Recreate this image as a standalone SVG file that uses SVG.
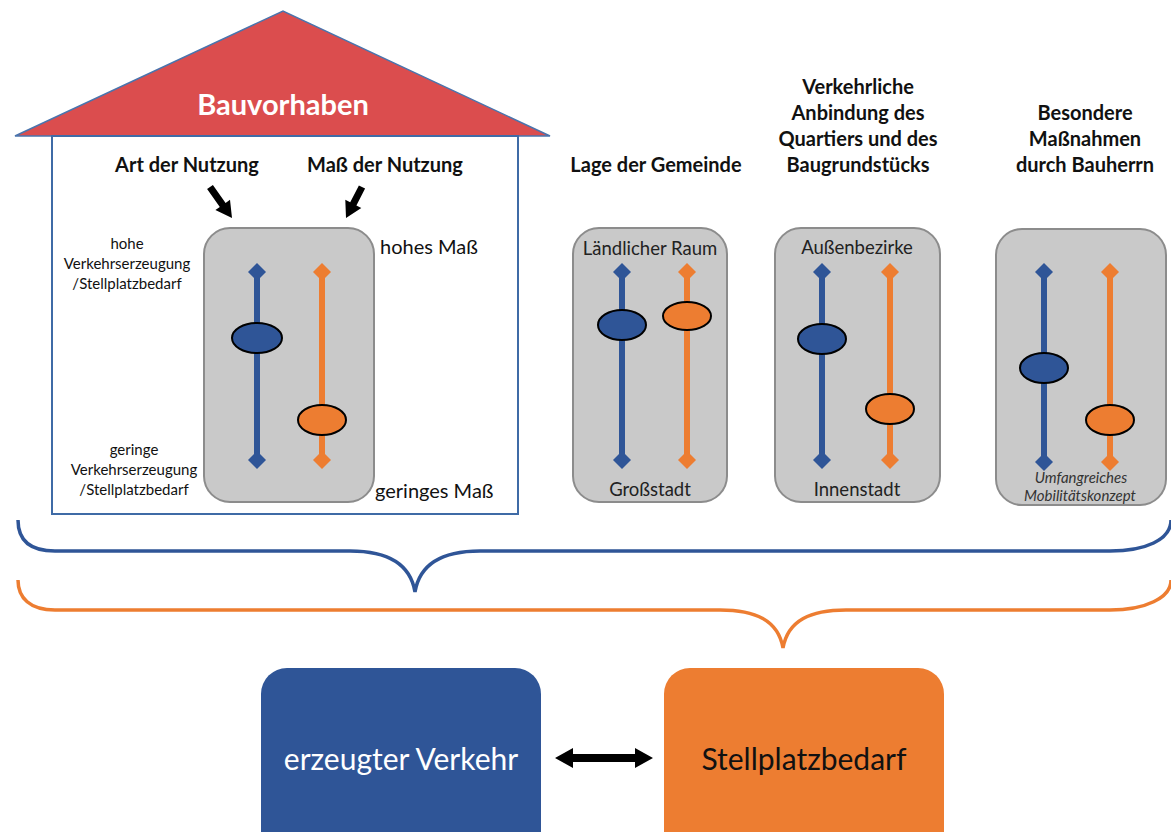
<svg xmlns="http://www.w3.org/2000/svg" width="1171" height="832" viewBox="0 0 1171 832">
<defs>
<style>
text{font-family:Lato,"Open Sans","Liberation Sans",sans-serif;}
.h{font-weight:bold;font-size:20px;fill:#111;text-anchor:middle;}
.lbl{font-size:15px;fill:#111;text-anchor:middle;}
.side{font-size:20px;fill:#111;}
.pl{font-size:18.5px;fill:#222;text-anchor:middle;}
.it{font-size:15px;font-style:italic;fill:#333;text-anchor:middle;}
.panel{fill:#c9c9c9;stroke:#8c8c8c;stroke-width:2;}
.bl{stroke:#2f5597;stroke-width:6;}
.or{stroke:#ed7d31;stroke-width:6;}
.bd{fill:#2f5597;}
.od{fill:#ed7d31;}
.bk{fill:#2f5597;stroke:#000;stroke-width:2;}
.ok{fill:#ed7d31;stroke:#000;stroke-width:2;}
.brace{fill:none;stroke-width:3.5;}
</style>
</defs>

<g id="house">
<polygon points="15,136 283,11 550,136" fill="#db4d4e" stroke="#4a74ad" stroke-width="1.5"/>
<text x="283" y="115" font-size="29" font-weight="bold" fill="#fff" text-anchor="middle">Bauvorhaben</text>
<rect x="52" y="136" width="466" height="378" fill="none" stroke="#3f6ba6" stroke-width="2"/>
<text class="h" x="187" y="172">Art der Nutzung</text>
<text class="h" x="385" y="172">Maß der Nutzung</text>
</g>

<g id="arrows-in">
<polygon points="212.9,185 225.6,202.9 230,199.7 232,218 215.4,210.1 219.8,206.9 207.1,189" fill="#000"/>
<polygon points="365.1,188.6 356.4,205.4 361.3,207.9 346,218 345.3,199.7 350.2,202.2 358.9,185.4" fill="#000"/>
</g>

<g id="labels-left">
<text class="lbl" x="127" y="249">hohe</text>
<text class="lbl" x="127" y="269">Verkehrserzeugung</text>
<text class="lbl" x="127" y="289">/Stellplatzbedarf</text>
<text class="lbl" x="134" y="455">geringe</text>
<text class="lbl" x="134" y="475">Verkehrserzeugung</text>
<text class="lbl" x="134" y="495">/Stellplatzbedarf</text>
<text class="side" x="380" y="254">hohes Maß</text>
<text class="side" x="375" y="498">geringes Maß</text>
</g>

<g id="panel-nutzung">
<rect class="panel" x="204" y="228" width="170" height="274" rx="26"/>
<line class="bl" x1="257" y1="272" x2="257" y2="460"/>
<polygon class="bd" points="257,263 266,272 257,281 248,272"/>
<polygon class="bd" points="257,451 266,460 257,469 248,460"/>
<ellipse class="bk" cx="257" cy="338" rx="25" ry="15"/>
<line class="or" x1="322" y1="272" x2="322" y2="460"/>
<polygon class="od" points="322,263 331,272 322,281 313,272"/>
<polygon class="od" points="322,451 331,460 322,469 313,460"/>
<ellipse class="ok" cx="322" cy="420" rx="24" ry="15"/>
</g>

<g id="panel-lage">
<text class="h" x="656" y="172">Lage der Gemeinde</text>
<rect class="panel" x="573" y="228" width="154" height="274" rx="26"/>
<text class="pl" x="650" y="255">Ländlicher Raum</text>
<line class="bl" x1="622" y1="272" x2="622" y2="460"/>
<polygon class="bd" points="622,263 631,272 622,281 613,272"/>
<polygon class="bd" points="622,451 631,460 622,469 613,460"/>
<ellipse class="bk" cx="622" cy="325" rx="24" ry="15"/>
<line class="or" x1="687" y1="272" x2="687" y2="460"/>
<polygon class="od" points="687,263 696,272 687,281 678,272"/>
<polygon class="od" points="687,451 696,460 687,469 678,460"/>
<ellipse class="ok" cx="687" cy="316" rx="24" ry="14"/>
<text class="pl" x="650" y="496">Großstadt</text>
</g>

<g id="panel-anbindung">
<text class="h" x="858" y="94">Verkehrliche</text>
<text class="h" x="858" y="120">Anbindung des</text>
<text class="h" x="858" y="146">Quartiers und des</text>
<text class="h" x="858" y="172">Baugrundstücks</text>
<rect class="panel" x="775" y="228" width="165" height="274" rx="26"/>
<text class="pl" x="857" y="254">Außenbezirke</text>
<line class="bl" x1="822" y1="272" x2="822" y2="460"/>
<polygon class="bd" points="822,263 831,272 822,281 813,272"/>
<polygon class="bd" points="822,451 831,460 822,469 813,460"/>
<ellipse class="bk" cx="822" cy="339" rx="24" ry="15"/>
<line class="or" x1="890" y1="272" x2="890" y2="460"/>
<polygon class="od" points="890,263 899,272 890,281 881,272"/>
<polygon class="od" points="890,451 899,460 890,469 881,460"/>
<ellipse class="ok" cx="890" cy="409" rx="24" ry="15"/>
<text class="pl" x="857" y="496">Innenstadt</text>
</g>

<g id="panel-massnahmen">
<text class="h" x="1085" y="120">Besondere</text>
<text class="h" x="1085" y="146">Maßnahmen</text>
<text class="h" x="1085" y="172">durch Bauherrn</text>
<rect class="panel" x="996" y="229" width="170" height="276" rx="26"/>
<line class="bl" x1="1044" y1="272" x2="1044" y2="462"/>
<polygon class="bd" points="1044,263 1053,272 1044,281 1035,272"/>
<polygon class="bd" points="1044,453 1053,462 1044,471 1035,462"/>
<ellipse class="bk" cx="1044" cy="368" rx="24" ry="15"/>
<line class="or" x1="1110" y1="272" x2="1110" y2="462"/>
<polygon class="od" points="1110,263 1119,272 1110,281 1101,272"/>
<polygon class="od" points="1110,453 1119,462 1110,471 1101,462"/>
<ellipse class="ok" cx="1110" cy="420" rx="24" ry="15"/>
<text class="it" x="1081" y="483">Umfangreiches</text>
<text class="it" x="1080" y="501">Mobilitätskonzept</text>
</g>

<g id="braces">
<path class="brace" stroke="#2f5597" d="M18,520 C18,540 30,551 55,551 L350,551 C385,551 410,562 415,592 C420,562 445,551 480,551 L1110,551 C1145,551 1171,540 1171,520"/>
<path class="brace" stroke="#ed7d31" d="M18,580 C18,598 30,610 55,610 L720,610 C755,610 778,620 783,648 C788,620 811,610 846,610 L1110,610 C1145,610 1171,598 1171,580"/>
</g>

<g id="node-verkehr">
<rect x="261" y="668" width="280" height="190" rx="26" fill="#2f5597"/>
<text x="401" y="770" font-size="30" fill="#fff" text-anchor="middle">erzeugter Verkehr</text>
</g>
<g id="node-stellplatz">
<rect x="664" y="668" width="280" height="190" rx="26" fill="#ed7d31"/>
<text x="804" y="770" font-size="30" fill="#111" text-anchor="middle">Stellplatzbedarf</text>
</g>
<g id="connectors">
<polygon points="555,758 573,748 573,754 635,754 635,748 653,758 635,768 635,762 573,762 573,768" fill="#000"/>
</g>
</svg>
